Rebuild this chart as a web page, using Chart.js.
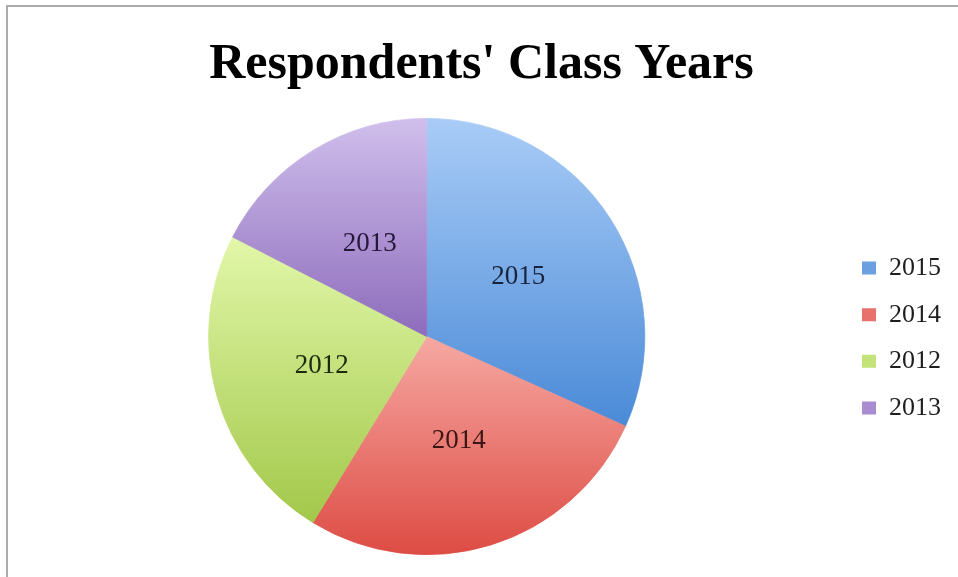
<!DOCTYPE html>
<html>
<head>
<meta charset="utf-8">
<script src="https://cdn.jsdelivr.net/npm/chart.js@4/dist/chart.umd.min.js"></script>
<style>
  html, body { margin: 0; padding: 0; background: #ffffff; }
  #wrap { position: relative; width: 958px; height: 577px; overflow: hidden; background: #ffffff; }
  #frame { position: absolute; left: 6px; top: 5px; width: 1000px; height: 1000px;
           border-left: 2px solid #ababab; border-top: 2px solid #ababab; box-sizing: border-box; }
  #chart { position: absolute; left: 0; top: 0; }
</style>
</head>
<body>
<div id="wrap">
  <div id="frame"></div>
  <canvas id="chart" width="958" height="577"></canvas>
</div>
<script>
// Class year of each respondent, counted per year
const classYears = ['2015', '2014', '2012', '2013'];
const respondents = [20, 17, 15, 11];

// Slice shading: lighter at the top of each slice, deeper at its bottom
const topColors    = ['#a9ccf7', '#f6a8a2', '#e2f7a9', '#d0bfec'];
const bottomColors = ['#4a8ad7', '#dd4c44', '#a2c84a', '#8d6cbc'];
const legendColors = ['#6c9fe0', '#e8716b', '#c3e27a', '#a88dd2'];
const labelColors  = ['#18243f', '#3b1714', '#1c2a0c', '#27183a'];
const legendTextColor = '#1e1e1e';

const serif = "'Liberation Serif', 'DejaVu Serif', serif";

// Fill each slice with a vertical gradient spanning that slice's own height;
// the edge uses the same gradient so neighbouring slices meet without a seam
const sliceGradients = {
  id: 'sliceGradients',
  beforeDatasetsDraw(chart) {
    const ctx = chart.ctx;
    chart.getDatasetMeta(0).data.forEach((arc, i) => {
      const { y, startAngle, endAngle, outerRadius } = arc.getProps(['y', 'startAngle', 'endAngle', 'outerRadius'], true);
      let minY = y, maxY = y;
      const steps = 60;
      for (let s = 0; s <= steps; s++) {
        const a = startAngle + (endAngle - startAngle) * s / steps;
        const py = y + Math.sin(a) * outerRadius;
        minY = Math.min(minY, py);
        maxY = Math.max(maxY, py);
      }
      const g = ctx.createLinearGradient(0, minY, 0, maxY);
      g.addColorStop(0, topColors[i]);
      g.addColorStop(1, bottomColors[i]);
      arc.options.backgroundColor = g;
      arc.options.borderColor = g;
    });
  }
};

// Year name written inside each slice
const sliceLabels = {
  id: 'sliceLabels',
  afterDatasetsDraw(chart) {
    const ctx = chart.ctx;
    ctx.save();
    ctx.font = '27px ' + serif;
    ctx.textAlign = 'center';
    ctx.textBaseline = 'middle';
    chart.getDatasetMeta(0).data.forEach((arc, i) => {
      const p = arc.getCenterPoint();
      ctx.fillStyle = labelColors[i];
      ctx.fillText(chart.data.labels[i], p.x, p.y);
    });
    ctx.restore();
  }
};

new Chart(document.getElementById('chart'), {
  type: 'pie',
  data: {
    labels: classYears,
    datasets: [{
      data: respondents,
      backgroundColor: legendColors,
      borderColor: legendColors,
      borderWidth: 0.8
    }]
  },
  options: {
    responsive: false,
    animation: false,
    layout: { padding: { left: 12, right: 7, top: 0, bottom: 22 } },
    plugins: {
      title: {
        display: true,
        text: "Respondents' Class Years",
        color: '#000000',
        font: { family: serif, size: 50, weight: 'bold' },
        padding: { top: 35, bottom: 23 }
      },
      legend: {
        position: 'right',
        title: {
          display: true,
          text: ' ',
          color: legendTextColor,
          font: { size: 10 },
          padding: { top: 109, bottom: 0 }
        },
        labels: {
          boxWidth: 14,
          boxHeight: 13,
          padding: 20.6,
          color: legendTextColor,
          font: { family: serif, size: 26 },
          generateLabels(chart) {
            return chart.data.labels.map((t, i) => ({
              text: t,
              fillStyle: legendColors[i],
              strokeStyle: legendColors[i],
              fontColor: legendTextColor,
              lineWidth: 0,
              index: i
            }));
          }
        }
      },
      tooltip: { enabled: false }
    }
  },
  plugins: [sliceGradients, sliceLabels]
});
</script>
</body>
</html>
